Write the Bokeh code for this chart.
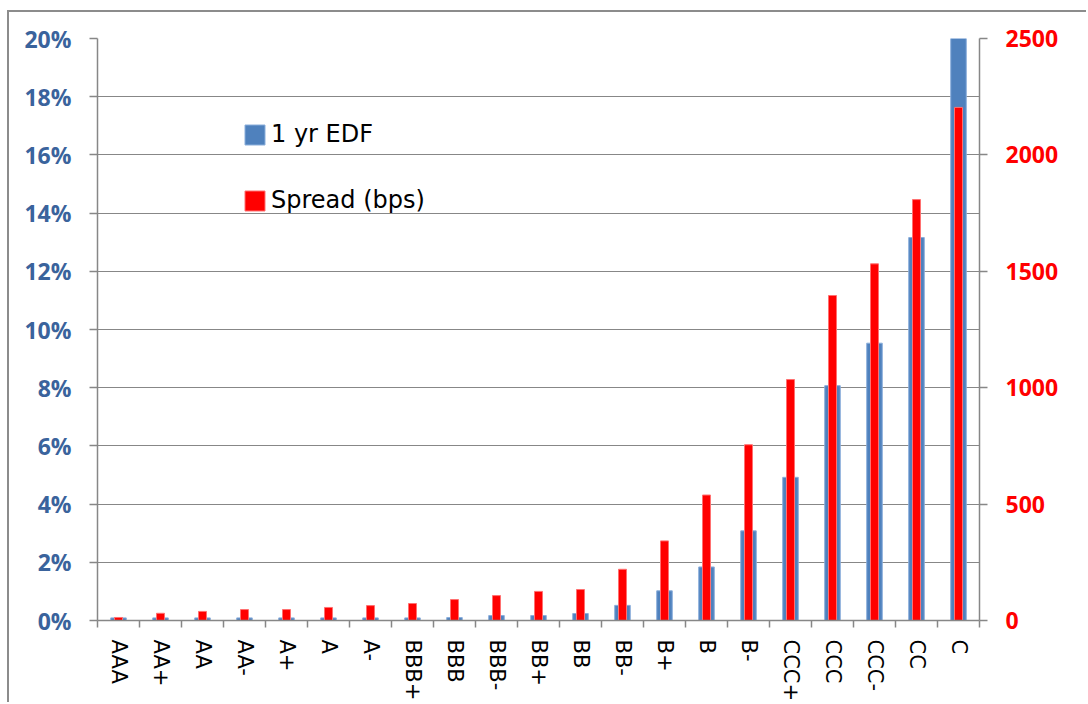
from bokeh.plotting import figure
from bokeh.models import (Range1d, LinearAxis, FixedTicker, NumeralTickFormatter,
                          ColumnDataSource, Legend, LegendItem, Grid)
from bokeh.embed import file_html
from bokeh.resources import INLINE

# Rating grades, 1-year expected default frequency (fraction) and credit spread (bps)
ratings = ["AAA", "AA+", "AA", "AA-", "A+", "A", "A-", "BBB+", "BBB", "BBB-",
           "BB+", "BB", "BB-", "B+", "B", "B-", "CCC+", "CCC", "CCC-", "CC", "C"]
edf_1yr = [0.0009, 0.0009, 0.0009, 0.0009, 0.0009, 0.0009, 0.0009, 0.0009, 0.0010, 0.0017,
           0.0017, 0.0024, 0.0052, 0.0102, 0.0184, 0.0308, 0.0492, 0.0807, 0.0953, 0.1316, 0.2000]
spread_bps = [13, 31, 39, 47, 47, 56, 64, 73, 90, 107,
              125, 133, 220, 342, 539, 755, 1035, 1396, 1532, 1808, 2204]

pct_ticks = [0.0, 0.02, 0.04, 0.06, 0.08, 0.10, 0.12, 0.14, 0.16, 0.18, 0.20]
bps_ticks = [0, 500, 1000, 1500, 2000, 2500]

AXIS_GREY = "#878787"
EDF_BLUE = "#4f81bd"
SPREAD_RED = "#ff0000"
PCT_LABEL = "#3a639c"

pos = [i + 0.5 for i in range(len(ratings))]
src = ColumnDataSource(dict(x=pos, edf=edf_1yr, bps=spread_bps))

p = figure(width=1079, height=692, output_backend="svg", toolbar_location=None,
           x_range=Range1d(0, len(ratings)), y_range=Range1d(0, 0.20),
           min_border_left=88, min_border_right=109, min_border_top=26, min_border_bottom=84,
           x_axis_type=None, y_axis_type=None)
# grey chart-area frame running off the right and bottom edges
p.styles = {"margin-left": "7px", "margin-top": "10px",
            "border-left": "2px solid #8c8c8c", "border-top": "2px solid #8c8c8c"}
p.extra_y_ranges = {"bps": Range1d(0, 2500)}
p.outline_line_color = None
p.background_fill_color = "white"
p.border_fill_color = "white"

edf_bars = p.vbar(x="x", top="edf", width=0.37, bottom=0, source=src,
                  fill_color=EDF_BLUE, line_color="#8aaedb", line_width=1)
spread_bars = p.vbar(x="x", top="bps", width=0.19, bottom=0, source=src, y_range_name="bps",
                     fill_color=SPREAD_RED, line_color="#ff7070", line_width=1)

# Left axis: EDF in percent
left = LinearAxis(ticker=FixedTicker(ticks=pct_ticks), formatter=NumeralTickFormatter(format="0%"))
# Right axis: spread in bps
right = LinearAxis(y_range_name="bps", ticker=FixedTicker(ticks=bps_ticks))
for ax, col in ((left, PCT_LABEL), (right, SPREAD_RED)):
    ax.axis_line_color = AXIS_GREY
    ax.axis_line_width = 1.5
    ax.major_tick_line_color = AXIS_GREY
    ax.major_tick_line_width = 1.5
    ax.major_tick_out = 8
    ax.major_tick_in = 0
    ax.minor_tick_line_color = None
    ax.major_label_text_color = col
    ax.major_label_text_font = "Open Sans"
    ax.major_label_text_font_style = "bold"
    ax.major_label_text_font_size = "23px"
    ax.major_label_standoff = 18
p.add_layout(left, "left")
p.add_layout(right, "right")

# Bottom axis: rating names centred in each slot, ticks on slot boundaries
bottom = LinearAxis(ticker=FixedTicker(ticks=pos, minor_ticks=list(range(len(ratings) + 1))))
bottom.major_label_overrides = {x: r for x, r in zip(pos, ratings)}
bottom.major_label_orientation = "vertical"
bottom.major_label_text_font = "DejaVu Sans"
bottom.major_label_text_font_size = "21px"
bottom.major_label_text_color = "black"
bottom.major_label_standoff = 12
bottom.axis_line_color = AXIS_GREY
bottom.axis_line_width = 1.5
bottom.major_tick_line_color = None
bottom.major_tick_out = 7
bottom.major_tick_in = 0
bottom.minor_tick_line_color = AXIS_GREY
bottom.minor_tick_line_width = 1.5
bottom.minor_tick_out = 7
bottom.minor_tick_in = 0
p.add_layout(bottom, "below")

# Horizontal gridlines at every 2 %
p.add_layout(Grid(dimension=1, ticker=FixedTicker(ticks=pct_ticks),
                  grid_line_color=AXIS_GREY, grid_line_width=1.2))

legend = Legend(items=[LegendItem(label="1 yr EDF", renderers=[edf_bars]),
                       LegendItem(label="Spread (bps)", renderers=[spread_bars])],
                location=(145, 406), padding=0, margin=0, spacing=38,
                glyph_width=25, glyph_height=25, label_standoff=4,
                label_text_font="DejaVu Sans", label_text_font_size="24px",
                label_text_color="black",
                border_line_color=None, background_fill_alpha=0)
p.add_layout(legend, "center")

open("out.html", "w").write(file_html(p, INLINE))
